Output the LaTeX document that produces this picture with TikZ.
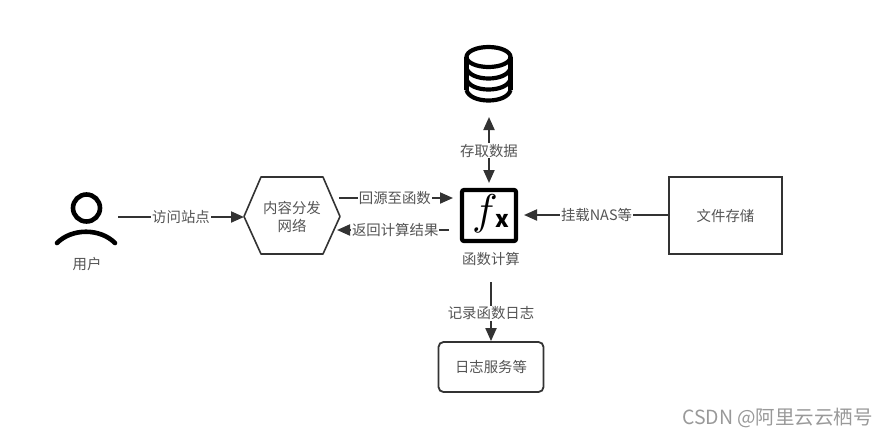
\documentclass[tikz,border=0pt]{standalone}
\usepackage{fontspec}
\setmainfont{Noto Sans CJK SC}
\usetikzlibrary{arrows.meta}
\definecolor{ink}{gray}{0.2}
\definecolor{txt}{gray}{0.33}
\tikzset{
  conn/.style={draw=ink,line width=2pt,-{Triangle[length=13pt,width=11pt]}},
  lab/.style={fill=white,text=txt,font=\fontsize{14.4}{16}\selectfont,inner sep=0.8pt},
  captext/.style={text=txt,font=\fontsize{14.4}{17}\selectfont,align=center,inner sep=0pt},
  icon/.style={draw=black,line width=4.6pt,line cap=round},
  box/.style={draw=ink,line width=1.8pt,text=txt,font=\fontsize{14.4}{17}\selectfont,inner sep=0pt,align=center},
}
\begin{document}
\begin{tikzpicture}[x=1pt,y=-1pt]
\useasboundingbox (0,0) rectangle (888,437);
% person
\node[circle,icon,minimum size=27pt,inner sep=0pt] (head) at (86.5,208) {};
\draw[icon] (57,243) .. controls (72,228) and (100,228) .. (115,243);
\node[captext] (user) at (87,264.5) {用户};
% hexagon
\draw[draw=ink,line width=1.6pt,line join=round] (244,216.5) -- (261,177) -- (323,177) -- (340,216.5) -- (323,254) -- (261,254) -- cycle;
\node[captext] (cdn) at (292,217) {内容分发\\[1pt]网络};
% fx
\node[draw=black,line width=4.2pt,rounded corners=2pt,minimum width=54pt,minimum height=51pt,inner sep=0pt] (fx) at (489,215.5) {};
\node[inner sep=0pt] (fxf) at (485,213.5) {\scalebox{4.3}{$f$}};
\node[inner sep=0pt,font=\fontsize{23}{23}\selectfont\bfseries] (fxx) at (502,221) {x};
\node[captext] (fxcap) at (491,259.5) {函数计算};
% database
\begin{scope}[line width=4.2pt,draw=black]
\draw (466.5,57) -- (466.5,90);
\draw (510.5,57) -- (510.5,90);
\draw (488.5,57) ellipse [x radius=22,y radius=10];
\draw (466.5,68) .. controls (470,82) and (507,82) .. (510.5,68);
\draw (466.5,79) .. controls (470,93) and (507,93) .. (510.5,79);
\draw (466.5,90) .. controls (470,104) and (507,104) .. (510.5,90);
\end{scope}
\coordinate (db) at (489,117);
% boxes
\node[box,minimum width=113pt,minimum height=77pt] (file) at (725.5,215.5) {文件存储};
\node[box,rounded corners=5pt,minimum width=105pt,minimum height=50pt] (log) at (491,367) {日志服务等};
% connector ports
\coordinate (uout) at (118,217);
\coordinate (hexw) at (244,217);
\coordinate (hexo) at (339,198);
\coordinate (fxi) at (453,198);
\coordinate (fxo) at (449,230);
\coordinate (hexi) at (337,230);
\coordinate (fxn) at (489,183);
\coordinate (fxe) at (524,215);
\coordinate (filew) at (669,215);
\coordinate (fxs) at (491,282);
% connectors
\draw[conn] (uout) -- node[lab,pos=.5]{访问站点} (hexw);
\draw[conn] (hexo) -- node[lab,pos=.49]{回源至函数} (fxi);
\draw[conn] (fxo) -- node[lab,pos=.48]{返回计算结果} (hexi);
\draw[draw=ink,line width=2pt,{Triangle[length=13pt,width=11pt]}-{Triangle[length=13pt,width=11pt]}] (db) -- node[lab,pos=.51]{存取数据} (fxn);
\draw[conn] (filew) -- node[lab,pos=.5]{挂载NAS等} (fxe);
\draw[conn] (fxs) -- node[lab,pos=.53]{记录函数日志} (log.north);
% watermark
\node[inner sep=0pt,text=black!40,font=\fontsize{19.5}{21}\selectfont] (wm) at (777.5,418) {CSDN @阿里云云栖号};
\end{tikzpicture}
\end{document}
